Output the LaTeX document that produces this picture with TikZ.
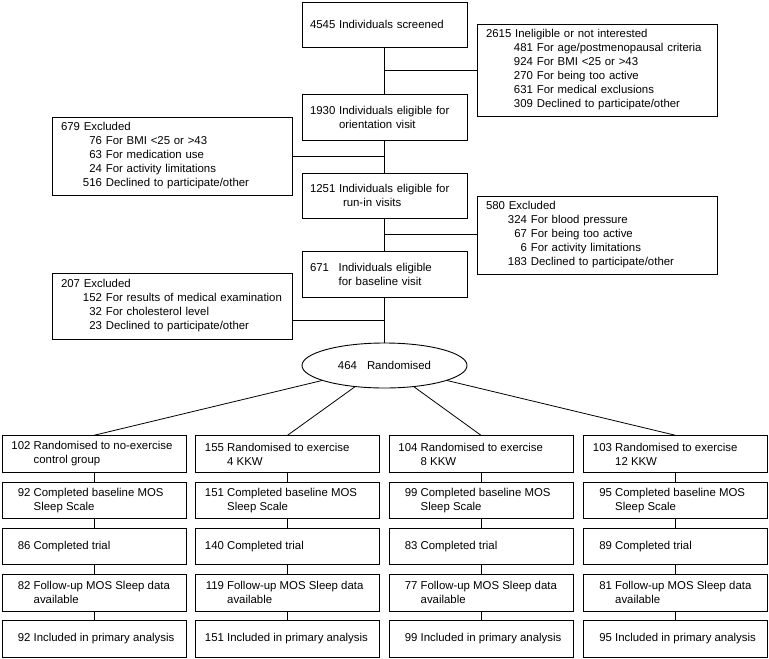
\documentclass[tikz,border=0pt]{standalone}
\usepackage{fontspec}
\setmainfont{Liberation Sans}
\usetikzlibrary{shapes.geometric,calc}
\newcommand\nb[1]{\makebox[19pt][r]{#1}\ }
\newcommand\nbi{\hspace*{22.2pt}}
\newcommand\exitem[2]{\hspace*{#1}\makebox[19pt][r]{#2}\ }
\newcommand\fl[1]{\makebox[165pt][l]{#1}}
\begin{document}
\begin{tikzpicture}[x=1pt,y=-1pt,font=\fontsize{11.4}{14}\selectfont,
  mainbox/.style={draw,line width=0.9pt,text width=149pt,inner xsep=8pt,inner ysep=0pt,align=left},
  exbox/.style={draw,line width=0.9pt,text width=222pt,inner xsep=9pt,inner ysep=0pt,align=left},
  armbox/.style={draw,line width=0.9pt,minimum width=184pt,inner xsep=9.5pt,inner ysep=0pt,minimum height=36.5pt,align=left},
  randell/.style={draw,ellipse,line width=0.9pt,minimum width=165pt,minimum height=45pt,inner sep=0pt},
  link/.style={line width=0.8pt}]
\useasboundingbox (0,0) rectangle (769,659);
% main column
\node[mainbox,minimum height=45pt] (s0) at (384.5,24.5) {4545 Individuals screened};
\node[mainbox,minimum height=46pt] (s1) at (384.5,117) {1930 Individuals eligible for\\\hspace*{29pt}orientation visit};
\node[mainbox,minimum height=45pt] (s2) at (384.5,195.5) {1251 Individuals eligible for\\\hspace*{33pt}run-in visits};
\node[mainbox,minimum height=46pt] (s3) at (384.5,274) {\makebox[28.6pt][l]{671}Individuals eligible\\\hspace*{28.6pt}for baseline visit};
\node[randell] (r) at (384.5,365.5) {464\hspace{10pt}Randomised};
% exclusion boxes
\node[exbox,minimum height=92pt] (e1) at (597,70) {2615 Ineligible or not interested\\
  \exitem{28pt}{481}For age/postmenopausal criteria\\
  \exitem{28pt}{924}For BMI <25 or >43\\
  \exitem{28pt}{270}For being too active\\
  \exitem{28pt}{631}For medical exclusions\\
  \exitem{28pt}{309}Declined to participate/other};
\node[exbox,minimum height=78pt] (e2) at (172,156) {679 Excluded\\
  \exitem{22pt}{76}For BMI <25 or >43\\
  \exitem{22pt}{63}For medication use\\
  \exitem{22pt}{24}For activity limitations\\
  \exitem{22pt}{516}Declined to participate/other};
\node[exbox,minimum height=78pt] (e3) at (597,235) {580 Excluded\\
  \exitem{22pt}{324}For blood pressure\\
  \exitem{22pt}{67}For being too active\\
  \exitem{22pt}{6}For activity limitations\\
  \exitem{22pt}{183}Declined to participate/other};
\node[exbox,minimum height=66pt] (e4) at (172,306) {207 Excluded\\
  \exitem{22pt}{152}For results of medical examination\\
  \exitem{22pt}{32}For cholesterol level\\
  \exitem{22pt}{23}Declined to participate/other};
% arms
\node[armbox] (a1r1) at (94,454) {\fl{\nb{102}Randomised to no-exercise}\\\nbi control group};
\node[armbox] (a1r2) at (94,500.25) {\fl{\nb{92}Completed baseline MOS}\\\nbi Sleep Scale};
\node[armbox] (a1r3) at (94,546.5) {\fl{\nb{86}Completed trial}};
\node[armbox] (a1r4) at (94,592.75) {\fl{\nb{82}Follow-up MOS Sleep data}\\\nbi available};
\node[armbox] (a1r5) at (94,639) {\fl{\nb{92}Included in primary analysis}};
\node[armbox] (a2r1) at (287.5,454) {\fl{\nb{155}Randomised to exercise}\\\nbi 4 KKW};
\node[armbox] (a2r2) at (287.5,500.25) {\fl{\nb{151}Completed baseline MOS}\\\nbi Sleep Scale};
\node[armbox] (a2r3) at (287.5,546.5) {\fl{\nb{140}Completed trial}};
\node[armbox] (a2r4) at (287.5,592.75) {\fl{\nb{119}Follow-up MOS Sleep data}\\\nbi available};
\node[armbox] (a2r5) at (287.5,639) {\fl{\nb{151}Included in primary analysis}};
\node[armbox] (a3r1) at (481,454) {\fl{\nb{104}Randomised to exercise}\\\nbi 8 KKW};
\node[armbox] (a3r2) at (481,500.25) {\fl{\nb{99}Completed baseline MOS}\\\nbi Sleep Scale};
\node[armbox] (a3r3) at (481,546.5) {\fl{\nb{83}Completed trial}};
\node[armbox] (a3r4) at (481,592.75) {\fl{\nb{77}Follow-up MOS Sleep data}\\\nbi available};
\node[armbox] (a3r5) at (481,639) {\fl{\nb{99}Included in primary analysis}};
\node[armbox] (a4r1) at (675.5,454) {\fl{\nb{103}Randomised to exercise}\\\nbi 12 KKW};
\node[armbox] (a4r2) at (675.5,500.25) {\fl{\nb{95}Completed baseline MOS}\\\nbi Sleep Scale};
\node[armbox] (a4r3) at (675.5,546.5) {\fl{\nb{89}Completed trial}};
\node[armbox] (a4r4) at (675.5,592.75) {\fl{\nb{81}Follow-up MOS Sleep data}\\\nbi available};
\node[armbox] (a4r5) at (675.5,639) {\fl{\nb{95}Included in primary analysis}};
% connectors main column
\draw[link] (s0) -- (s1);
\draw[link] (s1) -- (s2);
\draw[link] (s2) -- (s3);
\draw[link] (s3) -- (r);
\coordinate (m1) at ($(s0.south)!0.5!(s1.north)$);
\coordinate (m2) at ($(s1.south)!0.5!(s2.north)$);
\coordinate (m3) at ($(s2.south)!0.5!(s3.north)$);
\coordinate (m4) at ($(s3.south)!0.5!(r.north)$);
\draw[link] (e1.west |- m1) -- (m1);
\draw[link] (e2.east |- m2) -- (m2);
\draw[link] (e3.west |- m3) -- (m3);
\draw[link] (e4.east |- m4) -- (m4);
% randomisation
\foreach \c in {1,2,3,4} {
  \draw[link] (r) -- (a\c r1.north);
  \draw[link] (a\c r1) -- (a\c r2);
  \draw[link] (a\c r2) -- (a\c r3);
  \draw[link] (a\c r3) -- (a\c r4);
  \draw[link] (a\c r4) -- (a\c r5);
}
\end{tikzpicture}
\end{document}
